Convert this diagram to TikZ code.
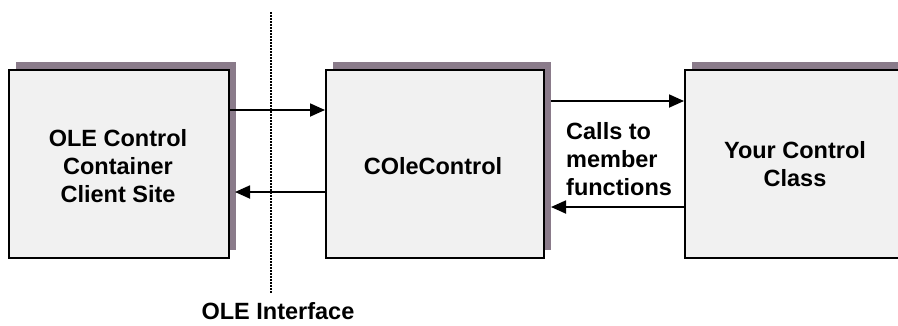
\documentclass[tikz,border=0pt]{standalone}
\usepackage{fontspec}
\setmainfont{Liberation Sans}
\usetikzlibrary{shadows,arrows.meta}
\definecolor{shadowc}{HTML}{8A7B8A}
\definecolor{boxfill}{HTML}{F1F1F1}
\tikzset{
  block/.style={draw=black, line width=2pt, fill=boxfill, rectangle,
    general shadow={fill=shadowc, shadow xshift=7pt, shadow yshift=8pt},
    inner sep=0pt, anchor=north west},
  lbl/.style={font=\fontsize{23.5}{28}\selectfont\bfseries, text=black, inner sep=0pt},
  link/.style={line width=1.8pt, -{Triangle[length=15pt,width=13pt]}},
  iface/.style={line width=2pt, dash pattern=on 1.5pt off 1.5pt}
}
\begin{document}
\begin{tikzpicture}[x=1pt,y=-1pt]
\useasboundingbox (0,0) rectangle (898,325);
\clip (0,0) rectangle (898,325);
\fill[white] (0,0) rectangle (898,325);

% the three boxes
\node[block, minimum width=220pt, minimum height=188pt] (client) at (8,69) {};
\node[block, minimum width=218pt, minimum height=188pt] (ctrl) at (325,69) {};
\node[block, minimum width=222pt, minimum height=188pt] (cls) at (684,69) {};

% box labels
\node[lbl, align=center] (tclient) at (118,166) {OLE Control\\Container\\Client Site};
\node[lbl] (tctrl) at (433,166) {COleControl};
\node[lbl, align=center] (tcls) at (795,164) {Your Control\\Class};

% OLE interface boundary
\coordinate (itop) at (271,12);
\coordinate (ibot) at (271,293);
\draw[iface] (itop) -- (ibot);
\node[lbl] (tiface) at (278,311) {OLE Interface};

% rows of the connectors
\coordinate (r1) at (0,110);
\coordinate (r2) at (0,192);
\coordinate (r3) at (0,101);
\coordinate (r4) at (0,207);
\coordinate (sh1) at (235,0);
\coordinate (sh2) at (551,0);

\draw[link] (client.east |- r1) -- (ctrl.west |- r1);
\draw[link] (ctrl.west |- r2) -- (sh1 |- r2);
\draw[link] (sh2 |- r3) -- (cls.west |- r3);
\draw[link] (cls.west |- r4) -- (sh2 |- r4);

\node[lbl, align=left, anchor=west] (tcalls) at (566,159) {Calls to\\member\\functions};
\end{tikzpicture}
\end{document}
